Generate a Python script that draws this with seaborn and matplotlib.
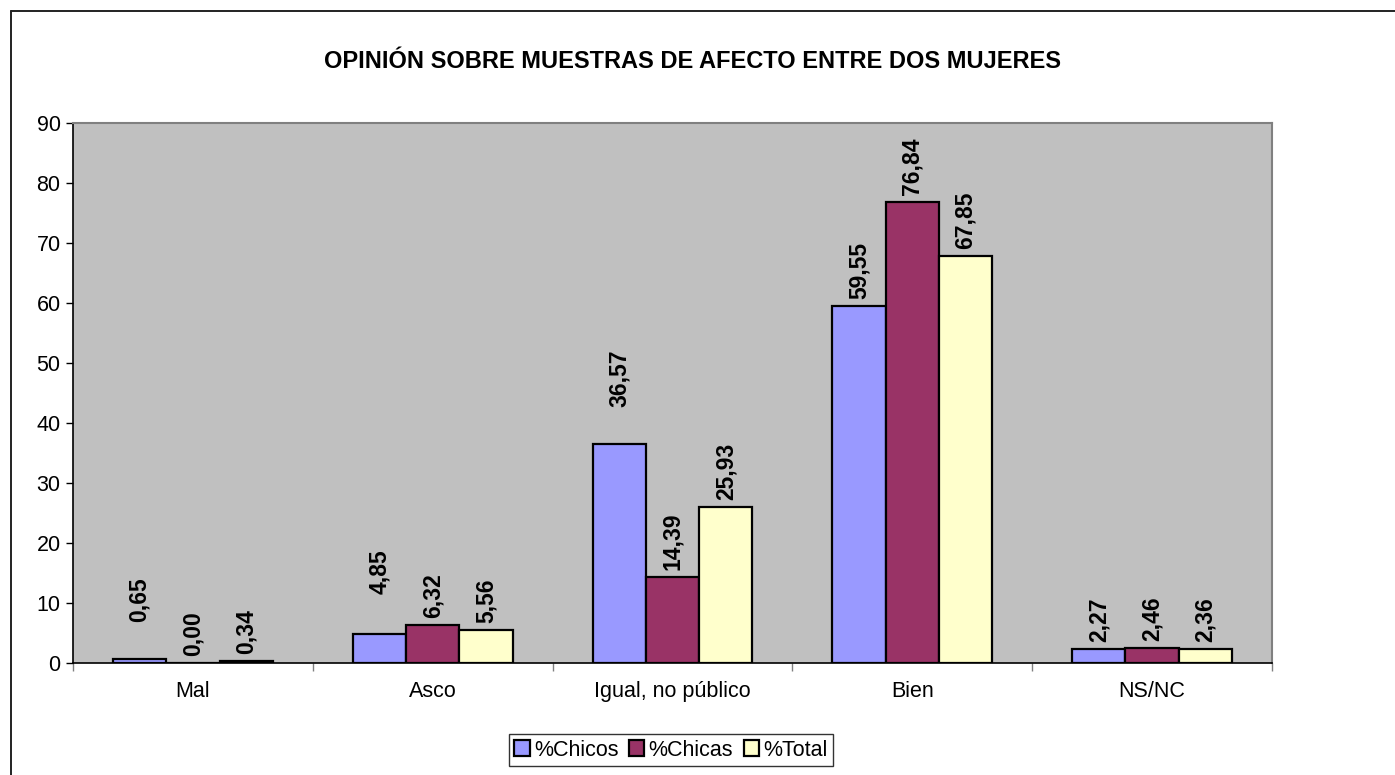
import pandas as pd
import matplotlib.pyplot as plt
import seaborn as sns
from matplotlib.lines import Line2D

# values
categorias = ['Mal', 'Asco', 'Igual, no público', 'Bien', 'NS/NC']
chicos = [0.65, 4.85, 36.57, 59.55, 2.27]
chicas = [0.00, 6.32, 14.39, 76.84, 2.46]
total = [0.34, 5.56, 25.93, 67.85, 2.36]
series = ['%Chicos', '%Chicas', '%Total']
colores = ['#9999FF', '#993366', '#FFFFCC']

df = pd.DataFrame({
    'categoria': categorias * 3,
    'serie': [s for s in series for _ in categorias],
    'valor': chicos + chicas + total,
})

sns.set_style('white')
plt.rcParams['font.family'] = ['Liberation Sans', 'DejaVu Sans']
plt.rcParams['text.color'] = 'black'
plt.rcParams['xtick.color'] = 'black'
plt.rcParams['ytick.color'] = 'black'

fig = plt.figure(figsize=(13.95, 7.75), dpi=100)
ax = fig.add_axes([73 / 1395, 112 / 775, 1199 / 1395, 540 / 775])
ax.set_facecolor('#C0C0C0')

sns.barplot(data=df, x='categoria', y='valor', hue='serie', order=categorias,
            hue_order=series, palette=colores, width=0.667, gap=0,
            edgecolor='black', linewidth=1.6, saturation=1, ax=ax)

# data labels (Excel pushed the first three %Chicos labels up a bit)
extra = {('%Chicos', 0): 22, ('%Chicos', 1): 24, ('%Chicos', 2): 21}
for cont, serie in zip(ax.containers, series):
    for i, bar in enumerate(cont):
        v = bar.get_height()
        pad = 5 + extra.get((serie, i), 0)
        ax.annotate(f'{v:.2f}'.replace('.', ','),
                    (bar.get_x() + bar.get_width() / 2, v),
                    xytext=(0, pad), textcoords='offset points',
                    rotation=90, ha='center', va='bottom',
                    fontsize=16.5, fontweight='bold', color='black')

ax.set_xlim(-0.5, 4.5)
ax.set_ylim(0, 90)
ax.set_yticks(range(0, 91, 10))
ax.set_xticks(range(5))
ax.set_xticks([i - 0.5 for i in range(6)], minor=True)
ax.tick_params(axis='x', which='major', length=0, labelsize=15.5, pad=13)
ax.tick_params(axis='x', which='minor', length=6, width=1, color='#808080',
               direction='out', bottom=True)
ax.tick_params(axis='y', length=5, width=1, color='black', labelsize=15.5,
               direction='out', left=True, pad=4)
ax.set_xlabel('')
ax.set_ylabel('')

for side in ['left', 'bottom']:
    ax.spines[side].set_color('black')
    ax.spines[side].set_linewidth(1.2)
for side in ['top', 'right']:
    ax.spines[side].set_visible(True)
    ax.spines[side].set_color('#808080')
    ax.spines[side].set_linewidth(1.5)

ax.legend_.remove()
handles = [plt.Rectangle((0, 0), 1, 1, facecolor=c, edgecolor='black', linewidth=1.6)
           for c in colores]
leg = fig.legend(handles, series, loc='center', bbox_to_anchor=(671 / 1395, 25 / 775),
                 ncol=3, fontsize=15.5, frameon=True, fancybox=False,
                 edgecolor='black', handlelength=0.7, handleheight=0.7,
                 handletextpad=0.2, columnspacing=0.5, borderpad=0.25)
leg.get_frame().set_linewidth(1.0)

fig.text(693 / 1395, 1 - 62 / 775, 'OPINIÓN SOBRE MUESTRAS DE AFECTO ENTRE DOS MUJERES',
         ha='center', va='center', fontsize=17, fontweight='bold', color='black')

# chart border (only left and top edges are visible in the picture)
fig.add_artist(Line2D([10.5 / 1395, 10.5 / 1395], [0, 1 - 10.5 / 775], color='#222222', lw=1.4))
fig.add_artist(Line2D([10.5 / 1395, 1], [1 - 10.5 / 775, 1 - 10.5 / 775], color='#222222', lw=1.4))

fig.savefig('out.png', dpi=100, facecolor='white')
